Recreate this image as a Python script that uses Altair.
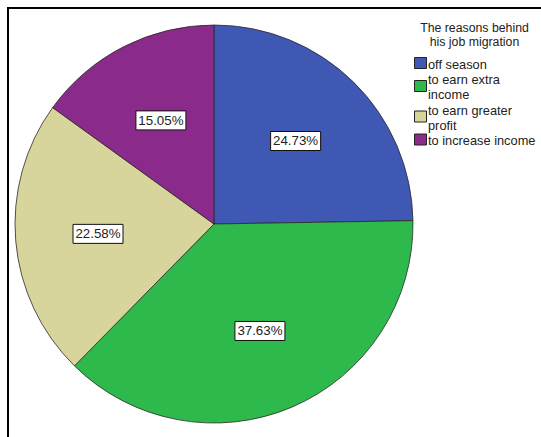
import altair as alt
import numpy as np
import pandas as pd

# Reasons for job migration and their shares (%)
reasons = ["off season", "to earn extra income", "to earn greater profit", "to increase income"]
legend_lines = ["off season", "to earn extra|income", "to earn greater|profit", "to increase income"]
legend_title = ["The reasons behind", "his job migration"]
percents = [24.73, 37.63, 22.58, 15.05]
colors = ["#3e58b4", "#2eb94c", "#d8d59c", "#8a2a8a"]

W, H = 541, 437
CX, CY, R = 214, 224, 199
LABEL_R = 0.585  # label distance from centre, as a fraction of the radius
FONT = "Liberation Sans"

df = pd.DataFrame({
    "reason": legend_lines,
    "pct": percents,
    "order": list(range(len(reasons))),
})
mid = (np.cumsum(percents) - np.array(percents) / 2) / 100 * 2 * np.pi
df["lx"] = LABEL_R * np.sin(mid)
df["ly"] = LABEL_R * np.cos(mid)
df["label"] = [f"{p:.2f}%" for p in percents]

color = alt.Color(
    "reason:N",
    scale=alt.Scale(domain=legend_lines, range=colors),
    legend=None,
)

# unit-circle coordinates mapped so that (0, 0) is the pie centre
xs = alt.Scale(domain=[-CX / R, (W - CX) / R], nice=False, zero=False)
ys = alt.Scale(domain=[-(H - CY) / R, CY / R], nice=False, zero=False)

pie = alt.Chart(df).mark_arc(radius=R, stroke="#2a2a2a", strokeWidth=0.8).encode(
    theta=alt.Theta("pct:Q", stack=True),
    order=alt.Order("order:Q"),
    color=color,
    x=alt.value(CX),
    y=alt.value(CY),
)

boxes = alt.Chart(df).mark_rect(
    width=50, height=19, fill="white", stroke="#111", strokeWidth=1
).encode(
    x=alt.X("lx:Q", scale=xs, axis=None),
    y=alt.Y("ly:Q", scale=ys, axis=None),
)

labels = alt.Chart(df).mark_text(
    font=FONT, fontSize=13.3, color="#222", baseline="middle", align="center", dy=0.5
).encode(
    x=alt.X("lx:Q", scale=xs, axis=None),
    y=alt.Y("ly:Q", scale=ys, axis=None),
    text="label:N",
)

# legend layout (pixels): swatch column, label column, wrapped label rows
LEG_X, TEXT_X, TITLE_X = 420.5, 428, 474.5
TITLE_Y, TITLE_LH = 27.5, 14
FIRST_ROW, LINE_H, ROW_GAP = 63, 15, 2.5

sw_rows, txt_rows = [], []
y = FIRST_ROW
prev_half = 0
for i, name in enumerate(legend_lines):
    parts = name.split("|")
    half = 6.5 + LINE_H * (len(parts) - 1) / 2
    if i > 0:
        y += prev_half + half + ROW_GAP
    sw_rows.append({"reason": name, "px": LEG_X, "py": y})
    for j, part in enumerate(parts):
        txt_rows.append({"text": part, "px": TEXT_X,
                         "py": y + 1.5 + (j - (len(parts) - 1) / 2) * LINE_H})
    prev_half = half

swatches = alt.Chart(pd.DataFrame(sw_rows)).mark_rect(
    width=12, height=11, stroke="#222", strokeWidth=1
).encode(
    x=alt.X("px:Q", scale=None, axis=None),
    y=alt.Y("py:Q", scale=None, axis=None),
    color=color,
)

legend_text = alt.Chart(pd.DataFrame(txt_rows)).mark_text(
    font=FONT, fontSize=12.8, color="#222", align="left", baseline="middle"
).encode(
    x=alt.X("px:Q", scale=None, axis=None),
    y=alt.Y("py:Q", scale=None, axis=None),
    text="text:N",
)

title_df = pd.DataFrame({
    "text": legend_title,
    "px": [TITLE_X] * len(legend_title),
    "py": [TITLE_Y + k * TITLE_LH for k in range(len(legend_title))],
})
legend_title_text = alt.Chart(title_df).mark_text(
    font=FONT, fontSize=12.3, color="#222", align="center", baseline="middle"
).encode(
    x=alt.X("px:Q", scale=None, axis=None),
    y=alt.Y("py:Q", scale=None, axis=None),
    text="text:N",
)

frame = alt.Chart(pd.DataFrame({"f": [0]})).mark_rect(
    fill="transparent", stroke="black", strokeWidth=2
).encode(
    x=alt.value(8), y=alt.value(8), x2=alt.value(W + 40), y2=alt.value(H + 40)
)

chart = alt.layer(
    frame, pie, boxes, labels, swatches, legend_text, legend_title_text
).resolve_scale(
    x="independent", y="independent"
).properties(
    width=W,
    height=H,
    padding=0,
    autosize=alt.AutoSizeParams(type="none"),
    background="white",
).configure_view(
    stroke=None
)

chart.save("out.html", embed_options={"renderer": "svg", "actions": False})
